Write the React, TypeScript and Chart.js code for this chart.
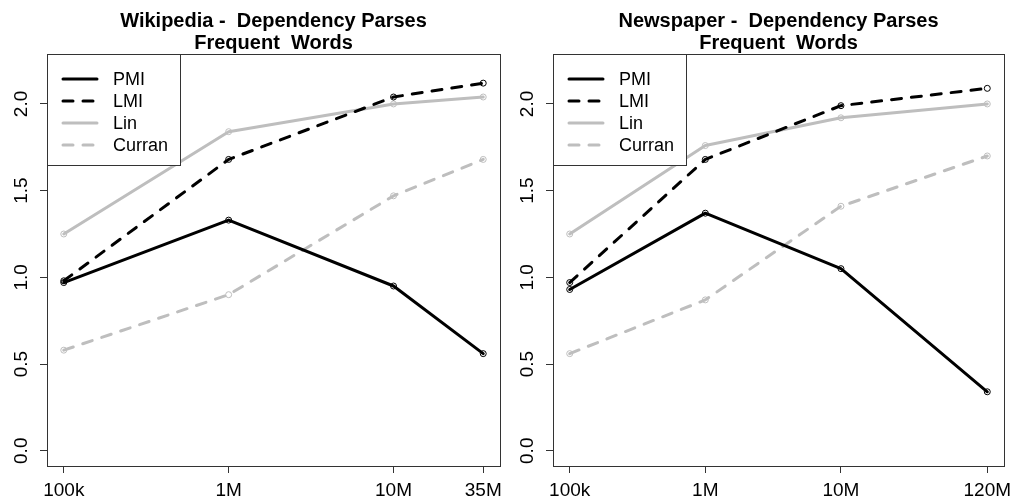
import React, { useEffect, useRef } from 'react';
import { Chart, registerables } from 'chart.js';

Chart.register(...registerables);

const FONT = '"Liberation Sans", Arial, Helvetica, sans-serif';
const BLACK = '#000000';
const GRAY = '#bebebe';

// ---- data ----
const seriesNames = ['PMI', 'LMI', 'Lin', 'Curran'];

const wikiTitle = ['Wikipedia -  Dependency Parses', 'Frequent  Words'];
const wikiX = [1e5, 1e6, 1e7, 3.5e7];
const wikiXLabels = ['100k', '1M', '10M', '35M'];
const wikiPMI = [0.97, 1.33, 0.95, 0.56];
const wikiLMI = [0.98, 1.68, 2.04, 2.12];
const wikiLin = [1.25, 1.84, 2.0, 2.04];
const wikiCurran = [0.58, 0.9, 1.47, 1.68];

const newsTitle = ['Newspaper -  Dependency Parses', 'Frequent  Words'];
const newsX = [1e5, 1e6, 1e7, 1.2e8];
const newsXLabels = ['100k', '1M', '10M', '120M'];
const newsPMI = [0.93, 1.37, 1.05, 0.34];
const newsLMI = [0.97, 1.68, 1.99, 2.09];
const newsLin = [1.25, 1.76, 1.92, 2.0];
const newsCurran = [0.56, 0.87, 1.41, 1.7];

const yTicks = [0, 0.5, 1.0, 1.5, 2.0];
const yTickLabels = ['0.0', '0.5', '1.0', '1.5', '2.0'];
const yLim = [0, 2.2];

// ---- styles ----
const seriesStyles = [
  { color: BLACK, dash: [] as number[] },
  { color: BLACK, dash: [10, 10] },
  { color: GRAY, dash: [] as number[] },
  { color: GRAY, dash: [10, 10] },
];

type PanelSpec = {
  title: string[];
  x: number[];
  xLabels: string[];
  series: number[][];
  axisWidth: number;
  padRight: number;
};

const panels: PanelSpec[] = [
  { title: wikiTitle, x: wikiX, xLabels: wikiXLabels, series: [wikiPMI, wikiLMI, wikiLin, wikiCurran], axisWidth: 47, padRight: 7 },
  { title: newsTitle, x: newsX, xLabels: newsXLabels, series: [newsPMI, newsLMI, newsLin, newsCurran], axisWidth: 46, padRight: 10 },
];

const decorPlugin = {
  id: 'decor',
  beforeDatasetsDraw(chart: any) {
    const { ctx, chartArea: a } = chart;
    ctx.save();
    ctx.strokeStyle = '#333';
    ctx.lineWidth = 1;
    ctx.strokeRect(Math.round(a.left) + 0.5, Math.round(a.top) + 0.5, Math.round(a.right - a.left), Math.round(a.bottom - a.top));
    ctx.restore();
  },
  afterDraw(chart: any, _args: any, opts: any) {
    const { ctx, chartArea: a } = chart;
    ctx.save();
    // title
    ctx.fillStyle = '#000';
    ctx.font = `bold 20px ${FONT}`;
    ctx.textAlign = 'center';
    ctx.textBaseline = 'middle';
    const cx = (a.left + a.right) / 2;
    const lines: string[] = opts.title || [];
    lines.forEach((t, i) => ctx.fillText(t, cx, 21 + i * 22.5));

    // legend
    const lx = Math.round(a.left) + 0.5;
    const ly = Math.round(a.top) + 0.5;
    const lw = 133;
    const lh = 111;
    ctx.fillStyle = '#fff';
    ctx.fillRect(lx, ly, lw, lh);
    ctx.strokeStyle = '#333';
    ctx.lineWidth = 1;
    ctx.setLineDash([]);
    ctx.strokeRect(lx, ly, lw, lh);
    seriesNames.forEach((name, i) => {
      const y = a.top + 25 + i * 22;
      const st = seriesStyles[i];
      ctx.save();
      ctx.strokeStyle = st.color;
      ctx.lineWidth = 3;
      ctx.lineCap = 'round';
      ctx.setLineDash(st.dash);
      ctx.beginPath();
      ctx.moveTo(a.left + 16, y);
      ctx.lineTo(a.left + 50, y);
      ctx.stroke();
      ctx.restore();
      ctx.fillStyle = '#000';
      ctx.font = `18px ${FONT}`;
      ctx.textAlign = 'left';
      ctx.textBaseline = 'middle';
      ctx.fillText(name, a.left + 66, y + 1);
    });
    ctx.restore();
  },
};

function buildConfig(p: PanelSpec): any {
  const span = Math.log10(p.x[p.x.length - 1] / p.x[0]);
  const xMin = Math.pow(10, Math.log10(p.x[0]) - 0.04 * span);
  const xMax = Math.pow(10, Math.log10(p.x[p.x.length - 1]) + 0.04 * span);
  const yr = yLim[1] - yLim[0];
  const yMin = yLim[0] - 0.04 * yr;
  const yMax = yLim[1] + 0.04 * yr;

  const datasets = p.series.map((vals, i) => {
    const st = seriesStyles[i];
    return {
      label: seriesNames[i],
      data: vals.map((v, j) => ({ x: p.x[j], y: v })),
      borderColor: st.color,
      borderWidth: 3,
      borderDash: st.dash,
      borderCapStyle: 'round',
      borderJoinStyle: 'round',
      tension: 0,
      fill: false,
      pointRadius: 3,
      pointBorderWidth: 1,
      pointBorderColor: st.color,
      pointBackgroundColor: 'rgba(0,0,0,0)',
      pointStyle: 'circle',
    };
  });

  return {
    type: 'line',
    data: { datasets },
    plugins: [decorPlugin],
    options: {
      responsive: false,
      animation: false,
      devicePixelRatio: 1,
      layout: { padding: { top: 54, right: p.padRight, bottom: 0, left: 0 } },
      plugins: {
        legend: { display: false },
        title: { display: false },
        tooltip: { enabled: false },
        decor: { title: p.title },
      },
      scales: {
        x: {
          type: 'logarithmic',
          min: xMin,
          max: xMax,
          bounds: 'data',
          afterBuildTicks: (scale: any) => {
            scale.ticks = p.x.map((v) => ({ value: v }));
          },
          afterFit: (scale: any) => {
            scale.height = 33;
            scale.paddingLeft = 0;
            scale.paddingRight = 0;
          },
          grid: { display: true, drawOnChartArea: false, drawTicks: true, tickLength: 7, tickColor: '#333', tickWidth: 1 },
          border: { display: false },
          ticks: {
            autoSkip: false,
            maxRotation: 0,
            minRotation: 0,
            padding: 6,
            color: '#000',
            font: { family: FONT, size: 19 },
            callback: (_v: any, i: number) => p.xLabels[i],
          },
        },
        y: {
          type: 'linear',
          min: yMin,
          max: yMax,
          bounds: 'data',
          afterBuildTicks: (scale: any) => {
            scale.ticks = yTicks.map((v) => ({ value: v }));
          },
          afterFit: (scale: any) => {
            scale.width = p.axisWidth;
            scale.paddingTop = 0;
            scale.paddingBottom = 0;
          },
          grid: { display: true, drawOnChartArea: false, drawTicks: true, tickLength: 7, tickColor: '#333', tickWidth: 1 },
          border: { display: false },
          ticks: {
            autoSkip: false,
            minRotation: 90,
            maxRotation: 90,
            crossAlign: 'center',
            padding: 5,
            color: '#000',
            font: { family: FONT, size: 19 },
            callback: (_v: any, i: number) => yTickLabels[i],
          },
        },
      },
    },
  };
}

function Panel({ spec }: { spec: PanelSpec }) {
  const ref = useRef<HTMLCanvasElement>(null);
  useEffect(() => {
    const chart = new Chart(ref.current as HTMLCanvasElement, buildConfig(spec));
    return () => chart.destroy();
  }, [spec]);
  return <canvas ref={ref} width={507} height={499} style={{ display: 'block', width: 507, height: 499 }} />;
}

export default function App() {
  return (
    <div style={{ position: 'absolute', left: 0, top: 0, width: 1014, height: 499, display: 'flex', background: '#fff' }}>
      {panels.map((p, i) => (
        <Panel key={i} spec={p} />
      ))}
    </div>
  );
}
